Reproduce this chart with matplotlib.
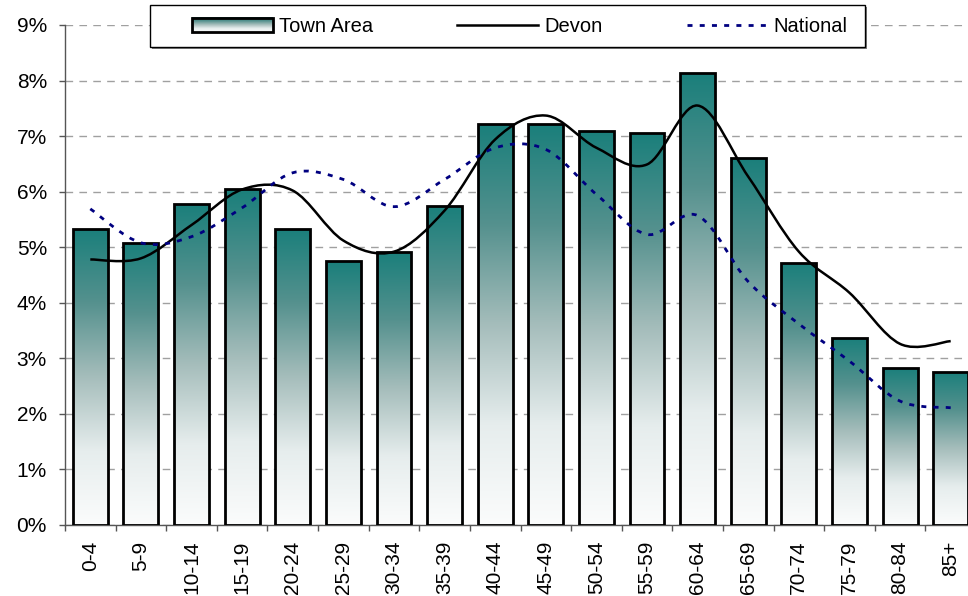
import numpy as np
import matplotlib.pyplot as plt
from matplotlib.colors import LinearSegmentedColormap
from matplotlib.path import Path
from matplotlib.patches import PathPatch, Rectangle
from matplotlib.lines import Line2D
from matplotlib.legend_handler import HandlerBase
from matplotlib.image import BboxImage
from matplotlib.transforms import Bbox, TransformedBbox
from matplotlib.ticker import FixedLocator, FuncFormatter

plt.rcParams['font.family'] = ['Liberation Sans', 'DejaVu Sans']

age_groups = ["0-4", "5-9", "10-14", "15-19", "20-24", "25-29", "30-34", "35-39",
              "40-44", "45-49", "50-54", "55-59", "60-64", "65-69", "70-74",
              "75-79", "80-84", "85+"]
town_area = [5.33, 5.08, 5.78, 6.04, 5.33, 4.76, 4.92, 5.75, 7.21, 7.21,
             7.10, 7.06, 8.14, 6.61, 4.72, 3.37, 2.83, 2.76]
devon = [4.78, 4.80, 5.40, 6.04, 6.02, 5.12, 4.92, 5.66, 6.94, 7.37,
         6.79, 6.49, 7.55, 6.27, 4.92, 4.18, 3.26, 3.31]
national = [5.69, 5.08, 5.19, 5.71, 6.34, 6.22, 5.73, 6.22, 6.79, 6.76,
            5.95, 5.23, 5.57, 4.38, 3.62, 2.95, 2.23, 2.11]

# excel style fill: teal at the top, greyish in the middle, almost white at the base
teal_fade = LinearSegmentedColormap.from_list(
    "teal_fade",
    [(0.0, "#fbfcfc"), (0.25, "#e6eded"), (0.5, "#a5bdbb"),
     (0.75, "#55918e"), (1.0, "#1a7f7b")])
gradient = np.linspace(0, 1, 256).reshape(-1, 1)


def smooth_path(xs, ys):
    # excel style smoothed line: catmull-rom segments drawn as cubic beziers
    pts = np.column_stack([xs, ys]).astype(float)
    padded = np.vstack([pts[0], pts, pts[-1]])
    verts = [pts[0]]
    codes = [Path.MOVETO]
    for i in range(len(pts) - 1):
        p0, p1, p2, p3 = padded[i:i + 4]
        verts += [p1 + (p2 - p0) / 6, p2 - (p3 - p1) / 6, p2]
        codes += [Path.CURVE4] * 3
    return Path(verts, codes)


class GradientHandler(HandlerBase):
    def create_artists(self, legend, orig_handle, xdescent, ydescent,
                       width, height, fontsize, trans):
        bb = TransformedBbox(Bbox.from_bounds(-xdescent, -ydescent, width, height), trans)
        img = BboxImage(bb, cmap=teal_fade, origin="lower", interpolation="bilinear")
        img.set_data(gradient)
        edge = Rectangle((-xdescent, -ydescent), width, height, facecolor="none",
                         edgecolor="black", lw=2, transform=trans)
        return [img, edge]


W, H = 968, 596
fig = plt.figure(figsize=(W / 100, H / 100), dpi=100)
ax = fig.add_axes([65 / W, 71 / H, 911 / W, 500 / H])

x = np.arange(len(age_groups))
bar_w = 0.69
bars = ax.bar(x, town_area, width=bar_w, facecolor="none", edgecolor="black",
              lw=2, zorder=3)
for b, h in zip(bars, town_area):
    im = ax.imshow(gradient, cmap=teal_fade, origin="lower", aspect="auto",
                   extent=[b.get_x(), b.get_x() + bar_w, 0, h], zorder=2,
                   interpolation="bilinear")
    im.set_clip_path(b)

ax.add_patch(PathPatch(smooth_path(x, devon), facecolor="none", edgecolor="black",
                       lw=1.8, zorder=4))
ax.add_patch(PathPatch(smooth_path(x, national), facecolor="none", edgecolor="#000080",
                       lw=2, linestyle=(0, (1.8, 2.6)), zorder=4))

ax.set_xlim(-0.5, len(age_groups) - 0.5)
ax.set_ylim(0, 9)

ax.yaxis.set_major_locator(FixedLocator(range(10)))
ax.yaxis.set_major_formatter(FuncFormatter(lambda v, p: f"{v:.0f}%"))
ax.grid(axis="y", color="#a0a0a0", lw=1, linestyle=(0, (5.5, 4.5)))
ax.set_axisbelow(True)

ax.set_xticks(x)
ax.set_xticklabels(age_groups, rotation=90, va="top", ha="center")
ax.set_xticks(np.arange(-0.5, len(age_groups)), minor=True)
ax.tick_params(axis="x", which="major", length=0, pad=11.5, labelsize=15)
ax.tick_params(axis="x", which="minor", length=4.5, width=1, color="#555555")
ax.tick_params(axis="y", length=4.5, width=1, color="#555555", pad=8.5, labelsize=15)

for side in ("top", "right"):
    ax.spines[side].set_visible(False)
for side in ("left", "bottom"):
    ax.spines[side].set_color("#555555")
    ax.spines[side].set_linewidth(1)

# legend frame with a small shadow
fig.patches.append(Rectangle((152 / W, 1 - 49 / H), 715 / W, 42 / H, transform=fig.transFigure,
                             facecolor="#808080", edgecolor="none", zorder=5))
fig.patches.append(Rectangle((150 / W, 1 - 47 / H), 715 / W, 42 / H, transform=fig.transFigure,
                             facecolor="white", edgecolor="black", lw=1, zorder=6))

town_handle = Rectangle((0, 0), 1, 1)
devon_handle = Line2D([], [], color="black", lw=1.8)
national_handle = Line2D([], [], color="#000080", lw=2, linestyle=(0, (1.8, 2.6)))
leg = fig.legend([town_handle, devon_handle, national_handle],
                 ["Town Area", "Devon", "National"],
                 handler_map={Rectangle: GradientHandler()},
                 loc="center left", bbox_to_anchor=(192 / W, 1 - 26.5 / H),
                 ncol=3, frameon=False, borderpad=0, borderaxespad=0,
                 handlelength=4, handletextpad=0.3, columnspacing=4.2,
                 fontsize=14.5)
leg.set_zorder(7)

fig.savefig("out.png", dpi=100)
